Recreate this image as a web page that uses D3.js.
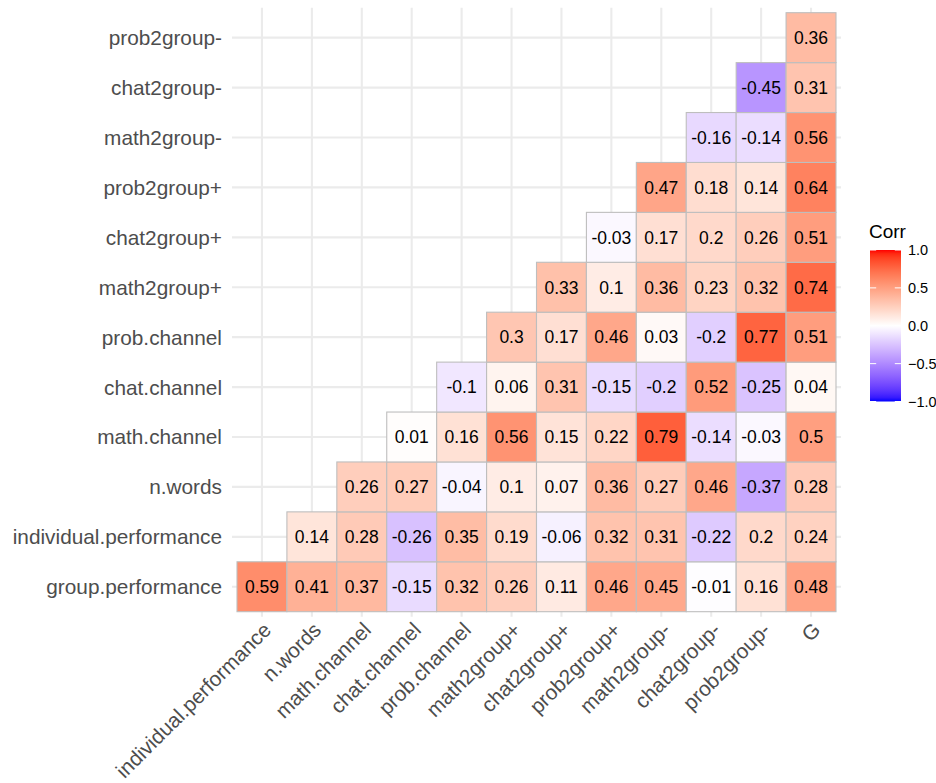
<!DOCTYPE html>
<html>
<head>
<meta charset="utf-8">
<script src="https://cdn.jsdelivr.net/npm/d3@7"></script>
<style>
  html, body { margin: 0; padding: 0; background: #fff; }
  svg { display: block; font-family: "Liberation Sans", Arial, Helvetica, sans-serif; }
</style>
</head>
<body>
<svg id="chart" width="936" height="783"></svg>
<script>
// ---- data ----
const xCategories = ["individual.performance", "n.words", "math.channel", "chat.channel", "prob.channel",
  "math2group+", "chat2group+", "prob2group+", "math2group-", "chat2group-", "prob2group-", "G"];
const yCategories = ["group.performance", "individual.performance", "n.words", "math.channel", "chat.channel",
  "prob.channel", "math2group+", "chat2group+", "prob2group+", "math2group-", "chat2group-", "prob2group-"];

// each row lists correlations for x columns starting at the column index equal to row index
const rowGroupPerformance      = [0.59, 0.41, 0.37, -0.15, 0.32, 0.26, 0.11, 0.46, 0.45, -0.01, 0.16, 0.48];
const rowIndividualPerformance = [0.14, 0.28, -0.26, 0.35, 0.19, -0.06, 0.32, 0.31, -0.22, 0.2, 0.24];
const rowNWords                = [0.26, 0.27, -0.04, 0.1, 0.07, 0.36, 0.27, 0.46, -0.37, 0.28];
const rowMathChannel           = [0.01, 0.16, 0.56, 0.15, 0.22, 0.79, -0.14, -0.03, 0.5];
const rowChatChannel           = [-0.1, 0.06, 0.31, -0.15, -0.2, 0.52, -0.25, 0.04];
const rowProbChannel           = [0.3, 0.17, 0.46, 0.03, -0.2, 0.77, 0.51];
const rowMath2groupPlus        = [0.33, 0.1, 0.36, 0.23, 0.32, 0.74];
const rowChat2groupPlus        = [-0.03, 0.17, 0.2, 0.26, 0.51];
const rowProb2groupPlus        = [0.47, 0.18, 0.14, 0.64];
const rowMath2groupMinus       = [-0.16, -0.14, 0.56];
const rowChat2groupMinus       = [-0.45, 0.31];
const rowProb2groupMinus       = [0.36];

const rows = [rowGroupPerformance, rowIndividualPerformance, rowNWords, rowMathChannel, rowChatChannel,
  rowProbChannel, rowMath2groupPlus, rowChat2groupPlus, rowProb2groupPlus, rowMath2groupMinus,
  rowChat2groupMinus, rowProb2groupMinus];

const legendTicks = [1.0, 0.5, 0.0, -0.5, -1.0];

const cells = [];
rows.forEach((vals, i) => {
  vals.forEach((v, k) => {
    cells.push({ x: xCategories[i + k], y: yCategories[i], value: v });
  });
});

// ---- layout ----
const svg = d3.select("#chart");
const tileLeft = 237, tileRight = 836, tileTop = 12.7, tileBottom = 611.7;

const x = d3.scaleBand().domain(xCategories).range([tileLeft, tileRight]).padding(0);
const y = d3.scaleBand().domain(yCategories).range([tileBottom, tileTop]).padding(0);
const expandX = x.bandwidth() * 0.1, expandY = y.bandwidth() * 0.1;
const panelLeft = tileLeft - expandX, panelRight = tileRight + expandX;
const panelTop = tileTop - expandY, panelBottom = tileBottom + expandY;

const color = v => v >= 0 ? d3.interpolateLab("#ffffff", "#ff0000")(v) : d3.interpolateLab("#ffffff", "#0000ff")(-v);

// grid
const grid = svg.append("g");
grid.selectAll("line.vx").data(xCategories).join("line")
  .attr("x1", d => x(d) + x.bandwidth() / 2).attr("x2", d => x(d) + x.bandwidth() / 2)
  .attr("y1", panelTop).attr("y2", panelBottom)
  .attr("stroke", "#EBEBEB").attr("stroke-width", 2.1);
grid.selectAll("line.hy").data(yCategories).join("line")
  .attr("y1", d => y(d) + y.bandwidth() / 2).attr("y2", d => y(d) + y.bandwidth() / 2)
  .attr("x1", panelLeft).attr("x2", panelRight)
  .attr("stroke", "#EBEBEB").attr("stroke-width", 2.1);

// tiles
svg.append("g").selectAll("rect").data(cells).join("rect")
  .attr("x", d => x(d.x)).attr("y", d => y(d.y))
  .attr("width", x.bandwidth()).attr("height", y.bandwidth())
  .attr("fill", d => color(d.value))
  .attr("stroke", "#BEBEBE").attr("stroke-width", 1.1);

// labels
svg.append("g").selectAll("text").data(cells).join("text")
  .attr("x", d => x(d.x) + x.bandwidth() / 2)
  .attr("y", d => y(d.y) + y.bandwidth() / 2)
  .attr("dy", "0.36em")
  .attr("text-anchor", "middle")
  .attr("font-size", 17.5)
  .attr("fill", "#000")
  .text(d => String(d.value));

// y axis labels
svg.append("g").selectAll("text").data(yCategories).join("text")
  .attr("x", 222)
  .attr("y", d => y(d) + y.bandwidth() / 2)
  .attr("dy", "0.36em")
  .attr("text-anchor", "end")
  .attr("font-size", 20.8)
  .attr("fill", "#4D4D4D")
  .text(d => d);

// x axis labels (rotated 45)
svg.append("g").selectAll("text").data(xCategories).join("text")
  .attr("transform", d => `translate(${x(d) + x.bandwidth() / 2},${panelBottom + 4}) rotate(-45)`)
  .attr("dy", "0.72em")
  .attr("text-anchor", "end")
  .attr("font-size", 20.8)
  .attr("fill", "#4D4D4D")
  .text(d => d);

// legend
const legX = 870, legW = 31, legTop = 250, legBottom = 401.5;
const defs = svg.append("defs");
const grad = defs.append("linearGradient").attr("id", "corrgrad")
  .attr("x1", 0).attr("y1", 1).attr("x2", 0).attr("y2", 0);
d3.range(0, 41).forEach(i => {
  const t = i / 40;
  grad.append("stop").attr("offset", t).attr("stop-color", color(-1 + 2 * t));
});
const legScale = d3.scaleLinear().domain([-1, 1]).range([legBottom, legTop]);
svg.append("rect").attr("x", legX).attr("y", legTop).attr("width", legW).attr("height", legBottom - legTop)
  .attr("fill", "url(#corrgrad)");
const lt = svg.append("g");
legendTicks.forEach(v => {
  lt.append("line").attr("x1", legX).attr("x2", legX + legW * 0.2)
    .attr("y1", legScale(v)).attr("y2", legScale(v)).attr("stroke", "#fff").attr("stroke-width", 1);
  lt.append("line").attr("x1", legX + legW * 0.8).attr("x2", legX + legW)
    .attr("y1", legScale(v)).attr("y2", legScale(v)).attr("stroke", "#fff").attr("stroke-width", 1);
  lt.append("text").attr("x", 908).attr("y", legScale(v)).attr("dy", "0.36em")
    .attr("font-size", 14.5).attr("fill", "#000").text(d3.format(".1f")(v));
});
svg.append("text").attr("x", 869).attr("y", 238).attr("font-size", 19).attr("fill", "#000").text("Corr");
</script>
</body>
</html>
